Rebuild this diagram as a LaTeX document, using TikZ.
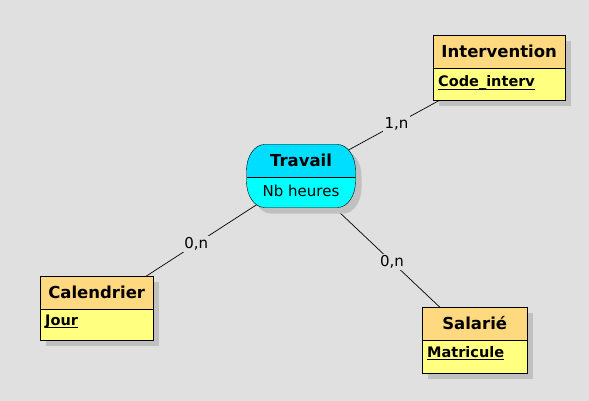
\documentclass[tikz,border=0pt]{standalone}
\usepackage{fontspec}
\setmainfont{DejaVu Sans}
\usetikzlibrary{shadows}

\definecolor{fondgris}{RGB}{224,224,224}
\definecolor{ombre}{RGB}{192,192,192}
\definecolor{titreorange}{RGB}{255,217,128}
\definecolor{attrjaune}{RGB}{255,255,128}
\definecolor{cyanhaut}{RGB}{0,222,255}
\definecolor{cyanbas}{RGB}{0,255,255}

\pgfdeclarelayer{fond}
\pgfdeclarelayer{liens}
\pgfsetlayers{fond,liens,main}

\newcommand{\ident}[1]{\setbox0\hbox{#1}\rlap{\rule[-3.4pt]{\wd0}{1.2pt}}\box0}

\begin{document}
\begin{tikzpicture}[x=1pt,y=-1pt,line width=0.8pt,
  entite/.style={draw, fill=attrjaune, inner sep=0pt, anchor=north west,
    drop shadow={shadow xshift=6pt, shadow yshift=-6pt, fill=ombre, opacity=1},
    path picture={
      \fill[titreorange] (path picture bounding box.north west) rectangle ([yshift=-33pt]path picture bounding box.north east);
      \draw ([yshift=-33pt]path picture bounding box.north west) -- ([yshift=-33pt]path picture bounding box.north east);}},
  titre/.style={font=\fontsize{16.5}{18}\selectfont\bfseries, inner sep=0pt},
  attr/.style={font=\fontsize{14.5}{17}\selectfont\bfseries, anchor=base west, inner sep=0pt},
  lien/.style={draw, line width=0.7pt},
  card/.style={fill=fondgris, inner sep=1.5pt, font=\fontsize{15}{17}\selectfont}]

\begin{pgfonlayer}{fond}
\fill[fondgris] (0,0) rectangle (589,401);
\end{pgfonlayer}
\useasboundingbox (0,0) rectangle (589,401);

% entites
\node[entite, minimum width=132pt, minimum height=65pt] (interv) at (433,35) {};
\node[titre] at ([yshift=-16.5pt]interv.north) {Intervention};
\node[attr] at ([xshift=5pt,yshift=-51.5pt]interv.north west) {\ident{Code\_interv}};

\node[entite, minimum width=113pt, minimum height=64pt] (calend) at (40,276) {};
\node[titre] at ([yshift=-16.5pt]calend.north) {Calendrier};
\node[attr] at ([xshift=5pt,yshift=-49pt]calend.north west) {\ident{Jour}};

\node[entite, minimum width=105pt, minimum height=66pt] (salarie) at (422,307) {};
\node[titre] at ([yshift=-16.5pt]salarie.north) {Salarié};
\node[attr] at ([xshift=5pt,yshift=-50pt]salarie.north west) {\ident{Matricule}};

% association
\node[inner sep=0pt, minimum width=109pt, minimum height=63pt] (trav) at (301,176) {};
\path[draw, fill=cyanbas,
    drop shadow={shadow xshift=6pt, shadow yshift=-6pt, fill=ombre, opacity=1},
    path picture={
      \fill[cyanhaut] (path picture bounding box.north west) rectangle ([yshift=-33pt]path picture bounding box.north east);
      \draw ([yshift=-33pt]path picture bounding box.north west) -- ([yshift=-33pt]path picture bounding box.north east);}]
  (246.5,177.5) -- (246.5,170.5) .. controls (246.5,156.1) and (254.6,144.5) .. (264.5,144.5)
  -- (337.5,144.5) .. controls (347.4,144.5) and (355.5,156.1) .. (355.5,170.5)
  -- (355.5,181.5) .. controls (355.5,195.9) and (347.4,207.5) .. (337.5,207.5)
  -- (264.5,207.5) .. controls (254.6,207.5) and (246.5,195.9) .. (246.5,181.5) -- cycle;
\node[titre] at ([yshift=-16pt]trav.north) {Travail};
\node[font=\fontsize{15}{17}\selectfont, inner sep=0pt] at ([yshift=-47pt]trav.north) {Nb heures};

% pattes
\begin{pgfonlayer}{liens}
\draw[lien] (trav.center) -- node[card, pos=0.482] {1,n} (interv.center);
\draw[lien] (trav.center) -- node[card, pos=0.513] {0,n} (calend.center);
\draw[lien] (trav.center) -- node[card, pos=0.524] {0,n} (salarie.center);
\end{pgfonlayer}
\end{tikzpicture}
\end{document}
